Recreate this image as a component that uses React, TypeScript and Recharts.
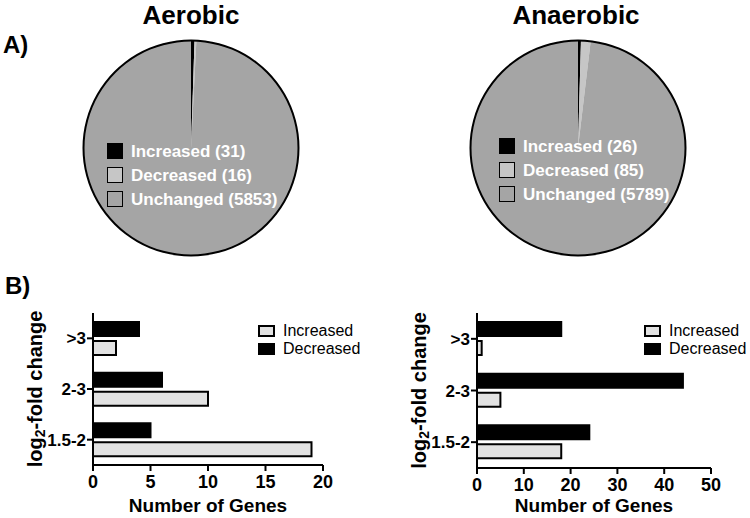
import React from 'react';
import { PieChart, Pie, Cell, Legend, BarChart, Bar, XAxis, YAxis } from 'recharts';

const FONT = '"Liberation Sans", Arial, Helvetica, sans-serif';

const pieCategories = ['Increased', 'Decreased', 'Unchanged'];
const aerobicCounts = [31, 16, 5853];
const anaerobicCounts = [26, 85, 5789];
const pieColors = ['#000000', '#c6c6c6', '#a5a5a5'];

const foldCategories = ['>3', '2-3', '1.5-2'];
const aerobicIncreased = [2, 10, 19];
const aerobicDecreased = [4, 6, 5];
const anaerobicIncreased = [1, 5, 18];
const anaerobicDecreased = [18, 44, 24];
const aerobicTicks = [0, 5, 10, 15, 20];
const anaerobicTicks = [0, 10, 20, 30, 40, 50];
const barSeries = ['Increased', 'Decreased'];
const barColors: Record<string, string> = { Increased: '#e2e2e2', Decreased: '#000000' };

function PiePanel({ counts, left, top, legendLeft, legendTop }: any) {
  const data = pieCategories.map((name, i) => ({ name, value: counts[i] }));
  const total = counts.reduce((a: number, b: number) => a + b, 0);
  return (
    <div style={{ position: 'absolute', left, top }}>
      <PieChart width={240} height={240} margin={{ top: 0, right: 0, bottom: 0, left: 0 }}>
        <Pie
          data={data}
          dataKey="value"
          nameKey="name"
          cx={120}
          cy={120}
          outerRadius={107.5}
          startAngle={90}
          endAngle={-270}
          stroke="none"
          isAnimationActive={false}
        >
          {data.map((d, i) => (
            <Cell key={d.name} fill={pieColors[i]} stroke="none" />
          ))}
        </Pie>
        <Pie
          data={[{ name: 'Total', value: total }]}
          dataKey="value"
          cx={120}
          cy={120}
          innerRadius={106.5}
          outerRadius={108.5}
          startAngle={90}
          endAngle={-270}
          fill="#000"
          stroke="none"
          legendType="none"
          isAnimationActive={false}
        />
        <Legend
          layout="vertical"
          align="center"
          verticalAlign="middle"
          wrapperStyle={{ left: legendLeft, top: legendTop, width: 200, height: 'auto' }}
          content={() => (
            <div style={{ fontFamily: FONT }}>
              {pieCategories.map((name, i) => (
                <div key={name} style={{ display: 'flex', alignItems: 'center', height: 24 }}>
                  <div
                    style={{
                      width: 16,
                      height: 16,
                      boxSizing: 'border-box',
                      background: pieColors[i],
                      border: '1.5px solid #000',
                      marginRight: 8,
                    }}
                  />
                  <span style={{ color: '#fff', fontWeight: 'bold', fontSize: 17, lineHeight: '17px', whiteSpace: 'nowrap' }}>
                    {name} ({counts[i]})
                  </span>
                </div>
              ))}
            </div>
          )}
        />
      </PieChart>
    </div>
  );
}

const makeYLabel = (xOff: number) => (props: any) => {
  const vb = props.viewBox || { x: 0, y: 0, width: 0, height: 0 };
  const cx = vb.x + xOff;
  const cy = vb.y + vb.height / 2;
  return (
    <text
      x={cx}
      y={cy}
      transform={`rotate(-90 ${cx} ${cy})`}
      textAnchor="middle"
      dominantBaseline="central"
      fontSize={20}
      fontWeight="bold"
      fill="#000"
      fontFamily={FONT}
    >
      log
      <tspan dy={5} fontSize={14}>2</tspan>
      <tspan dy={-5}>-fold change</tspan>
    </text>
  );
};

function BarPanel({ inc, dec, ticks, left, width, yAxisWidth, marginRight, xAxisHeight, legendLeft, yLabelX }: any) {
  const data = foldCategories.map((fold, i) => ({ fold, Increased: inc[i], Decreased: dec[i] }));
  return (
    <div style={{ position: 'absolute', left, top: 280 }}>
      <BarChart
        width={width}
        height={238}
        data={data}
        layout="vertical"
        margin={{ top: 33, right: marginRight, bottom: 0, left: 0 }}
        barSize={14}
        barGap={5}
      >
        <XAxis
          type="number"
          domain={[ticks[0], ticks[ticks.length - 1]]}
          ticks={ticks}
          interval={0}
          height={xAxisHeight}
          axisLine={{ stroke: '#000', strokeWidth: 2 }}
          tickLine={{ stroke: '#000', strokeWidth: 2 }}
          tickSize={6}
          tickMargin={4}
          tick={{ fill: '#000', fontSize: 18, fontWeight: 'bold', fontFamily: FONT }}
          label={{
            value: 'Number of Genes',
            position: 'insideBottom',
            offset: 6,
            fill: '#000',
            fontSize: 19,
            fontWeight: 'bold',
            fontFamily: FONT,
          }}
        />
        <YAxis
          type="category"
          dataKey="fold"
          width={yAxisWidth}
          axisLine={{ stroke: '#000', strokeWidth: 2 }}
          tickLine={{ stroke: '#000', strokeWidth: 2 }}
          tickSize={6}
          tickMargin={1}
          tick={{ fill: '#000', fontSize: 17, fontWeight: 'bold', fontFamily: FONT }}
          label={makeYLabel(yLabelX)}
        />
        <Bar dataKey="Decreased" fill={barColors.Decreased} stroke="#000" strokeWidth={2} isAnimationActive={false} />
        <Bar dataKey="Increased" fill={barColors.Increased} stroke="#000" strokeWidth={2} isAnimationActive={false} />
        <Legend
          layout="vertical"
          align="center"
          verticalAlign="middle"
          wrapperStyle={{ left: legendLeft, top: 42, width: 110, height: 'auto' }}
          content={() => (
            <div style={{ fontFamily: FONT }}>
              {barSeries.map((name) => (
                <div key={name} style={{ display: 'flex', alignItems: 'center', height: 18 }}>
                  <div
                    style={{
                      width: 17,
                      height: 12,
                      boxSizing: 'border-box',
                      background: barColors[name],
                      border: '2px solid #000',
                      marginRight: 8,
                    }}
                  />
                  <span style={{ color: '#000', fontSize: 16, lineHeight: '16px', whiteSpace: 'nowrap' }}>{name}</span>
                </div>
              ))}
            </div>
          )}
        />
      </BarChart>
    </div>
  );
}

const textStyle: React.CSSProperties = {
  position: 'absolute',
  fontFamily: FONT,
  fontWeight: 'bold',
  color: '#000',
  lineHeight: 1,
  whiteSpace: 'nowrap',
};

export default function App() {
  return (
    <div style={{ position: 'absolute', left: 0, top: 0, width: 750, height: 518, background: '#fff', fontFamily: FONT }}>
      <div style={{ ...textStyle, left: 91, top: 2, width: 200, textAlign: 'center', fontSize: 26 }}>Aerobic</div>
      <div style={{ ...textStyle, left: 476, top: 2, width: 200, textAlign: 'center', fontSize: 26 }}>Anaerobic</div>
      <div style={{ ...textStyle, left: 3, top: 33, fontSize: 24 }}>A)</div>
      <div style={{ ...textStyle, left: 5, top: 274, fontSize: 24 }}>B)</div>
      <PiePanel counts={aerobicCounts} left={71} top={28} legendLeft={36} legendTop={111} />
      <PiePanel counts={anaerobicCounts} left={458} top={28} legendLeft={41} legendTop={106} />
      <BarPanel
        inc={aerobicIncreased}
        dec={aerobicDecreased}
        ticks={aerobicTicks}
        left={0}
        width={370}
        yAxisWidth={93}
        marginRight={47}
        xAxisHeight={53}
        legendLeft={258}
        yLabelX={35}
      />
      <BarPanel
        inc={anaerobicIncreased}
        dec={anaerobicDecreased}
        ticks={anaerobicTicks}
        left={370}
        width={380}
        yAxisWidth={107}
        marginRight={39}
        xAxisHeight={50}
        legendLeft={274}
        yLabelX={49}
      />
    </div>
  );
}
